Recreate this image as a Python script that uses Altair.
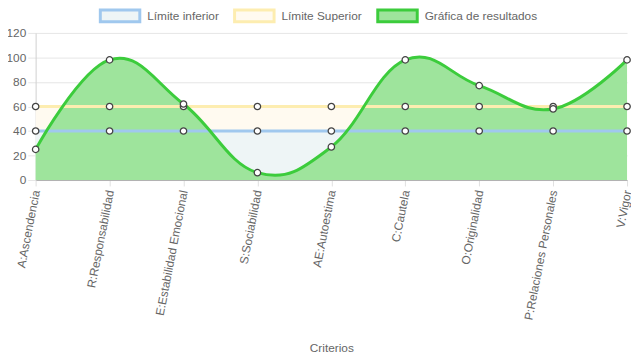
import altair as alt
import pandas as pd

categorias = ["A:Ascendencia", "R:Responsabilidad", "E:Estabilidad Emocional", "S:Sociabilidad",
              "AE:Autoestima", "C:Cautela", "O:Originalidad", "P:Relaciones Personales", "V:Vigor"]
limite_inferior = [40, 40, 40, 40, 40, 40, 40, 40, 40]
limite_superior = [60, 60, 60, 60, 60, 60, 60, 60, 60]
resultados = [25, 98, 62, 6, 27, 98, 77, 58, 98]

series = ["Límite inferior", "Límite Superior", "Gráfica de resultados"]
rellenos = ["#eef5f6", "#fffaf0", "#9ee49c"]
lineas = ["#a0c8ee", "#fdedb0", "#3ccc3c"]

rows = []
for nombre, valores in zip(series, [limite_inferior, limite_superior, resultados]):
    for c, v in zip(categorias, valores):
        rows.append({"categoria": c, "serie": nombre, "valor": v})
df = pd.DataFrame(rows)

FONT = "Liberation Sans"

x = alt.X("categoria:N", sort=categorias, scale=alt.Scale(type="point", padding=0),
          axis=alt.Axis(title="Criterios", labelAngle=-79, labelAlign="right", labelBaseline="middle",
                        labelFontSize=12, labelColor="#666", labelFont=FONT, labelPadding=4,
                        labelOverlap=False, labelBound=False,
                        tickSize=6, tickColor="#e0e0e0", domainColor="#b0b0b0",
                        gridColor="#e6e6e6", titleFontSize=12, titleColor="#666", titleFont=FONT,
                        titleFontWeight="normal", titleY=165, titleBaseline="top"))
y = alt.Y("valor:Q", scale=alt.Scale(domain=[0, 120], nice=False),
          axis=alt.Axis(title=None, values=[0, 20, 40, 60, 80, 100, 120], labelFontSize=12,
                        labelColor="#666", labelFont=FONT, tickSize=8, tickColor="#e6e6e6",
                        labelPadding=2, domainColor="#d0d0d0", gridColor="#e6e6e6"))

fill = alt.Fill("serie:N", scale=alt.Scale(domain=series, range=rellenos), title=None)
stroke = alt.Stroke("serie:N", scale=alt.Scale(domain=series, range=lineas), title=None)

base = alt.Chart(df)

area_sup = base.transform_filter(alt.datum.serie == "Límite Superior").mark_area(opacity=1).encode(x=x, y=y, fill=fill)
area_inf = base.transform_filter(alt.datum.serie == "Límite inferior").mark_area(opacity=1).encode(x=x, y=y, fill=fill)
area_res = base.transform_filter(alt.datum.serie == "Gráfica de resultados").mark_area(
    opacity=1, interpolate="cardinal", tension=-0.2).encode(x=x, y=y, fill=fill)

line_lim = base.transform_filter(alt.datum.serie != "Gráfica de resultados").mark_line(strokeWidth=3).encode(
    x=x, y=y, stroke=stroke, detail="serie:N")
line_res = base.transform_filter(alt.datum.serie == "Gráfica de resultados").mark_line(
    strokeWidth=3, interpolate="cardinal", tension=-0.2).encode(x=x, y=y, stroke=stroke)

puntos = base.mark_point(filled=False, shape="circle", size=42, fill="white", stroke="#444",
                         strokeWidth=1.3, opacity=1).encode(x=x, y=y)

chart = alt.layer(area_sup, area_inf, area_res, line_lim, line_res, puntos).properties(
    width=599, height=149,
    autosize=alt.AutoSizeParams(type="none"),
    padding={"left": 28, "top": 23, "right": 4, "bottom": 176},
).configure_view(stroke=None).configure_legend(
    orient="none", legendX=64, legendY=-39, direction="horizontal",
    symbolType="M-1,-0.3H1V0.3H-1Z", symbolSize=1600, symbolStrokeWidth=3,
    labelFontSize=12, labelColor="#666", labelFont=FONT, labelOffset=6, columnPadding=9,
    symbolOpacity=1,
)

chart.save("out.html", embed_options={"renderer": "svg", "actions": False})
